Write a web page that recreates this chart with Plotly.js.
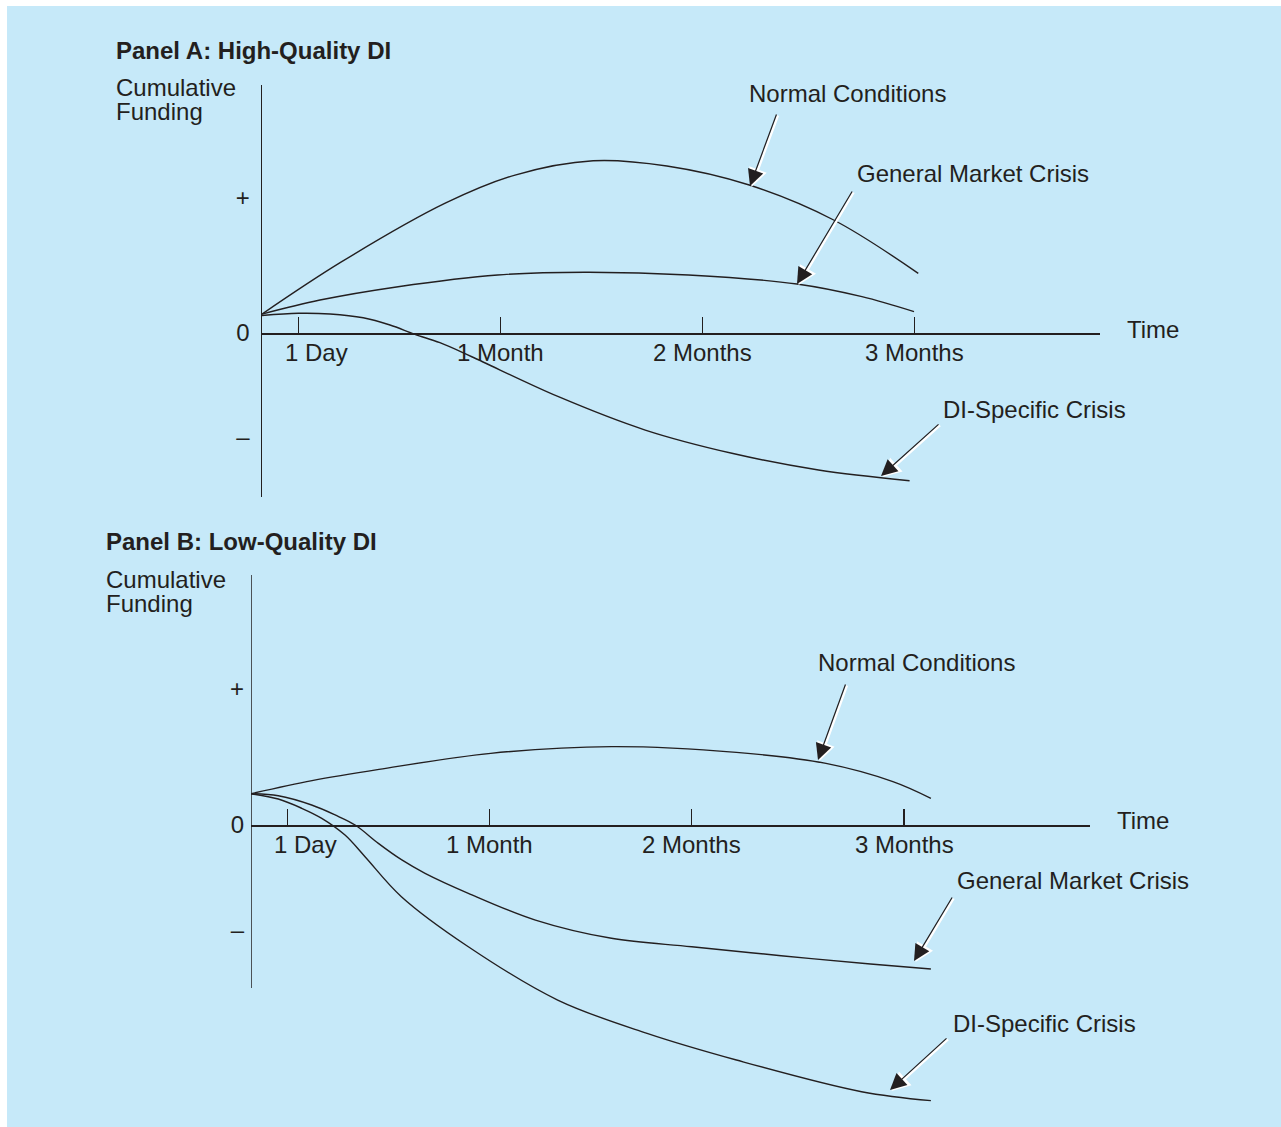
<!DOCTYPE html>
<html>
<head>
<meta charset="utf-8">
<script src="https://cdn.plot.ly/plotly-3.0.1.min.js"></script>
<style>
  html, body { margin: 0; padding: 0; background: #ffffff; }
  #chart { position: absolute; left: 7px; top: 6px; width: 1274px; height: 1121px; }
</style>
</head>
<body>
<div id="chart"></div>
<script>
// Time axis (arbitrary units, 1 unit ~ one month of spacing)
const tickVals = [0.18, 1.18, 2.18, 3.23];
const tickNames = ['1 Day', '1 Month', '2 Months', '3 Months'];
const tickLabelX = [0.27, 1.18, 2.18, 3.23];
const levelVals = [-0.77, 0, 1];
const levelNames = ['\u2013', '0', '+'];

// Panel A: High-Quality DI
const aNormalX = [0, 0.395, 0.910, 1.253, 1.640, 2.005, 2.413, 2.831, 3.250];
const aNormalY = [0.14, 0.528, 0.963, 1.170, 1.276, 1.237, 1.096, 0.837, 0.442];
const aGeneralX = [0, 0.287, 0.674, 1.167, 1.597, 2.112, 2.649, 2.971, 3.229];
const aGeneralY = [0.14, 0.244, 0.343, 0.430, 0.450, 0.430, 0.363, 0.269, 0.158];
const aSpecificX = [0, 0.180, 0.337, 0.501, 0.634, 0.757, 0.881, 1.039, 1.468, 1.898, 2.327, 2.756, 3.207];
const aSpecificY = [0.13, 0.146, 0.141, 0.113, 0.059, -0.010, -0.072, -0.176, -0.472, -0.719, -0.891, -1.015, -1.094];

// Panel B: Low-Quality DI
const bNormalX = [0, 0.302, 0.633, 1.186, 1.783, 2.401, 2.844, 3.175, 3.363];
const bNormalY = [0.23, 0.326, 0.409, 0.527, 0.576, 0.534, 0.453, 0.319, 0.196];
const bGeneralX = [0, 0.135, 0.300, 0.416, 0.515, 0.630, 0.746, 0.861, 1.075, 1.407, 1.783, 2.180, 2.622, 3.064, 3.363];
const bGeneralY = [0.23, 0.215, 0.147, 0.074, 0.0, -0.135, -0.257, -0.355, -0.502, -0.699, -0.833, -0.895, -0.961, -1.022, -1.059];
const bSpecificX = [0, 0.135, 0.251, 0.350, 0.465, 0.564, 0.744, 1.075, 1.517, 1.959, 2.401, 3.020, 3.363];
const bSpecificY = [0.23, 0.191, 0.123, 0.049, -0.074, -0.233, -0.527, -0.895, -1.287, -1.532, -1.728, -1.961, -2.027];

const INK = '#231f20';
const BG = '#c6e9f9';
const FONT = 'Liberation Sans, Arial, Helvetica, sans-serif';

// page pixel -> paper fraction (div sits at 7,6)
const W = 1274, H = 1121;
function px(x) { return (x - 7) / W; }
function py(y) { return 1 - (y - 6) / H; }

function curve(x, y, xa, ya) {
  return {
    x: x, y: y, xaxis: xa, yaxis: ya,
    type: 'scatter', mode: 'lines',
    line: { color: INK, width: 1.4, shape: 'spline', smoothing: 1 },
    hoverinfo: 'skip',
  };
}

const traces = [
  curve(aNormalX, aNormalY, 'x', 'y'),
  curve(aGeneralX, aGeneralY, 'x', 'y'),
  curve(aSpecificX, aSpecificY, 'x', 'y'),
  curve(bNormalX, bNormalY, 'x2', 'y2'),
  curve(bGeneralX, bGeneralY, 'x2', 'y2'),
  curve(bSpecificX, bSpecificY, 'x2', 'y2'),
];

function timeAxis(left, right, zeroY) {
  return {
    domain: [px(left), px(right)],
    range: [0, 4.15],
    anchor: 'free',
    position: py(zeroY),
    showline: true, linecolor: INK, linewidth: 1.5,
    ticks: 'inside', ticklen: 16, tickwidth: 1.3, tickcolor: INK,
    tickvals: tickVals,
    showticklabels: false,
    showgrid: false, zeroline: false, fixedrange: true,
  };
}

function levelAxis(top, bottom, zeroY, scale, xa, showline) {
  return {
    domain: [py(bottom), py(top)],
    range: [-(bottom - zeroY) / scale, (zeroY - top) / scale],
    anchor: xa,
    showline: showline, linecolor: INK, linewidth: 1.5,
    ticks: '',
    tickvals: levelVals, ticktext: levelNames,
    tickfont: { family: FONT, size: 24, color: INK },
    ticklabelstandoff: 6,
    showgrid: false, zeroline: false, fixedrange: true,
  };
}

function label(text, x, y, opts) {
  return Object.assign({
    text: text, xref: 'paper', yref: 'paper', x: px(x - 1), y: py(y - 1),
    xanchor: 'left', yanchor: 'middle', showarrow: false, borderpad: 0,
    font: { family: FONT, size: 24, color: INK },
  }, opts || {});
}

function arrow(hx, hy, tx, ty) {
  const base = {
    text: '', xref: 'paper', yref: 'paper', x: px(hx), y: py(hy),
    axref: 'pixel', ayref: 'pixel', ax: tx - hx, ay: ty - hy,
    showarrow: true, arrowhead: 2,
  };
  return [
    Object.assign({}, base, { x: px(hx + 1.5), y: py(hy + 1), arrowcolor: '#ffffff', arrowwidth: 2.4, arrowsize: 1.55 }),
    Object.assign({}, base, { arrowcolor: INK, arrowwidth: 1.2, arrowsize: 2.7 }),
  ];
}

const annotations = [
  label('<b>Panel A: High-Quality DI</b>', 116, 51),
  label('Cumulative', 116, 88),
  label('Funding', 116, 112),
  label('Normal Conditions', 749, 94),
  label('General Market Crisis', 857, 174),
  label('Time', 1127, 330),
  label('DI-Specific Crisis', 943, 410),
  label('<b>Panel B: Low-Quality DI</b>', 106, 542),
  label('Cumulative', 106, 580),
  label('Funding', 106, 604),
  label('Normal Conditions', 818, 663),
  label('Time', 1117, 821),
  label('General Market Crisis', 957, 881),
  label('DI-Specific Crisis', 953, 1024),
].concat(
  arrow(750, 186, 777, 113),
  arrow(797, 284, 853, 190),
  arrow(881, 476, 940, 423),
  arrow(818, 760, 846, 683),
  arrow(914, 961, 953, 896),
  arrow(890, 1090, 948, 1037),
);

// time tick labels, placed through each panel's axis scale
tickNames.forEach(function (name, i) {
  annotations.push({
    text: name, xref: 'x', yref: 'y', x: tickLabelX[i], y: -19 / 135,
    xanchor: 'center', yanchor: 'middle', showarrow: false,
    font: { family: FONT, size: 24, color: INK },
  });
  annotations.push({
    text: name, xref: 'x2', yref: 'y2', x: tickLabelX[i], y: -19 / 136,
    xanchor: 'center', yanchor: 'middle', showarrow: false,
    font: { family: FONT, size: 24, color: INK },
  });
});

const layout = {
  width: W, height: H,
  margin: { l: 0, r: 0, t: 0, b: 0, pad: 0 },
  paper_bgcolor: BG,
  plot_bgcolor: 'rgba(0,0,0,0)',
  showlegend: false,
  hovermode: false,
  font: { family: FONT, color: INK },
  xaxis: timeAxis(262, 1100, 333),
  yaxis: levelAxis(85, 497, 333, 135, 'x', true),
  xaxis2: timeAxis(251, 1090, 825),
  // panel B's curves run below the drawn axis, so its line is a shape
  yaxis2: levelAxis(575, 1110, 825, 136, 'x2', false),
  shapes: [{
    type: 'line', xref: 'x2', yref: 'y2',
    x0: 0, x1: 0, y0: -(988 - 825) / 136, y1: (825 - 575) / 136,
    line: { color: INK, width: 1.5 },
  }],
  annotations: annotations,
};

Plotly.newPlot('chart', traces, layout, { displayModeBar: false, staticPlot: true });
</script>
</body>
</html>
